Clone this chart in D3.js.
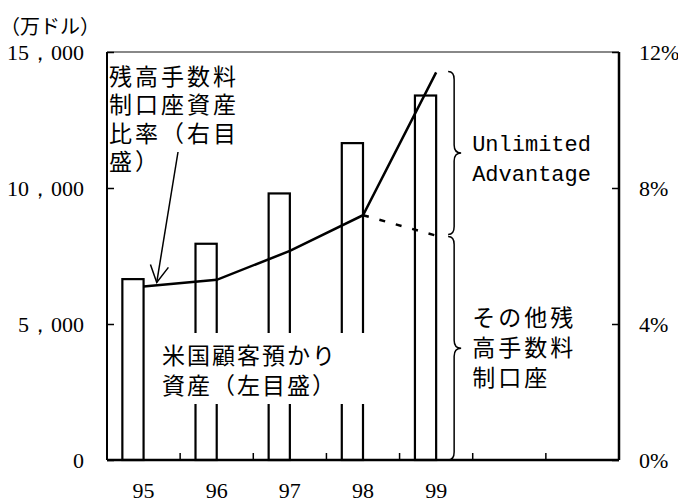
<!DOCTYPE html>
<html>
<head>
<meta charset="utf-8">
<script src="https://cdn.jsdelivr.net/npm/d3@7"></script>
<style>
  html, body { margin: 0; padding: 0; background: #fff; }
  svg { display: block; }
</style>
</head>
<body>
<svg id="chart" width="678" height="503"></svg>
<script>
// Year labels (fiscal years) and the slots on the category axis
const years = ["95", "96", "97", "98", "99"];
const slotCount = 7;
// US customer assets, 10k USD (left axis)
const assets = [6650, 7950, 9800, 11650, 13400];
// Share of fee-based account assets, % (right axis)
const ratio = [5.1, 5.3, 6.15, 7.2, 11.4];
// Same share without Unlimited Advantage, 98 -> 99 (dashed)
const ratioOther = [7.2, 6.6];
// Axis ticks
const leftTicks = [0, 5000, 10000, 15000];
const rightTicks = [0, 4, 8, 12];

const svg = d3.select("#chart");
const L = 107, R = 619, T = 52, B = 460;
const serif = "Liberation Serif, Times New Roman, DejaVu Serif, serif";
const jp = "Noto Sans CJK JP, sans-serif";

const x = d3.scaleBand().domain(d3.range(slotCount)).range([L, R]);
const bw = x.bandwidth();
const cx = i => x(i) + bw / 2;
const yL = d3.scaleLinear().domain([0, 15000]).range([B, T]);
const yR = d3.scaleLinear().domain([0, 12]).range([B, T]);
const barW = bw * 0.29;

// multi-line label as one text element
function block(lines, x0, y0, lh, size, spacing, family) {
  const t = svg.append("text")
    .style("font-family", family).style("font-size", size + "px")
    .attr("letter-spacing", spacing);
  t.selectAll("tspan").data(lines).join("tspan")
    .attr("x", x0).attr("y", (d, i) => y0 + i * lh).text(d => d);
  return t;
}

// frame: top edge in grey
svg.append("line").attr("x1", L).attr("x2", R).attr("y1", T).attr("y2", T)
  .attr("stroke", "#888").attr("stroke-width", 2);

// bars
svg.append("g").selectAll("rect").data(assets).join("rect")
  .attr("x", (d, i) => cx(i) - barW)
  .attr("y", d => yL(d))
  .attr("width", barW)
  .attr("height", d => B - yL(d))
  .attr("fill", "#fff").attr("stroke", "#000").attr("stroke-width", 2.2);

// left axis
const fmt = d3.format(",");
const gL = svg.append("g").attr("transform", `translate(${L},0)`)
  .call(d3.axisLeft(yL).tickValues(leftTicks).tickSize(-7).tickPadding(23)
    .tickFormat(d => fmt(d).replace(",", "，")));
gL.attr("font-family", null).attr("font-size", null);
gL.select(".domain").attr("stroke", "#000").attr("stroke-width", 2).attr("d", `M0,${T}V${B}`);
gL.selectAll(".tick line").attr("stroke", "#000").attr("stroke-width", 1.5);
gL.selectAll(".tick text").style("font-family", serif).style("font-size", "22px")
  .attr("dy", "0.33em").attr("fill", "#000");

// right axis
const gR = svg.append("g").attr("transform", `translate(${R},0)`)
  .call(d3.axisRight(yR).tickValues(rightTicks).tickSize(-7).tickPadding(20)
    .tickFormat(d => d + "%"));
gR.attr("font-family", null).attr("font-size", null);
gR.select(".domain").attr("stroke", "#000").attr("stroke-width", 2.5).attr("d", `M0,${T}V${B}`);
gR.selectAll(".tick line").attr("stroke", "#000").attr("stroke-width", 1.5);
gR.selectAll(".tick text").style("font-family", serif).style("font-size", "22px")
  .attr("dy", "0.33em").attr("fill", "#000");

// bottom axis: ticks on slot boundaries, labels in slot centres
svg.append("line").attr("x1", L).attr("x2", R).attr("y1", B).attr("y2", B)
  .attr("stroke", "#000").attr("stroke-width", 2.5);
svg.append("g").selectAll("line").data(d3.range(1, slotCount)).join("line")
  .attr("x1", d => x(d)).attr("x2", d => x(d)).attr("y1", B).attr("y2", B - 7)
  .attr("stroke", "#000").attr("stroke-width", 1.5);
svg.append("g").selectAll("text").data(years).join("text")
  .attr("x", (d, i) => cx(i)).attr("y", 498)
  .attr("text-anchor", "middle")
  .style("font-family", serif).style("font-size", "22px").text(d => d);

// unit label
svg.append("text").attr("x", 0).attr("y", 34)
  .style("font-family", jp).style("font-size", "20px").text("（万ドル）");

// ratio line
const line = d3.line().x(d => d[0]).y(d => d[1]);
svg.append("path")
  .attr("d", line(ratio.map((v, i) => [cx(i), yR(v)])))
  .attr("fill", "none").attr("stroke", "#000").attr("stroke-width", 2.5);
svg.append("path")
  .attr("d", line(ratioOther.map((v, i) => [cx(3 + i), yR(v)])))
  .attr("fill", "none").attr("stroke", "#000").attr("stroke-width", 2.5)
  .attr("stroke-dasharray", "6,11");

// label for the ratio line with arrow
block(["残高手数料", "制口座資産", "比率（右目", "盛）"], 109, 85, 28.3, 23, 3, jp);

const t = 0.18;
const tip = [cx(0) + t * (cx(1) - cx(0)),
             yR(ratio[0]) + t * (yR(ratio[1]) - yR(ratio[0])) - 3];
const start = [178, 152];
svg.append("line").attr("x1", start[0]).attr("y1", start[1])
  .attr("x2", tip[0]).attr("y2", tip[1]).attr("stroke", "#000").attr("stroke-width", 1.5);
const ang = Math.atan2(start[1] - tip[1], start[0] - tip[0]);
const headLen = 19, spread = 0.5;
const arm = s => [tip[0] + headLen * Math.cos(ang + s), tip[1] + headLen * Math.sin(ang + s)];
const a1 = arm(spread), a2 = arm(-spread);
svg.append("path")
  .attr("d", `M${a1[0]},${a1[1]}L${tip[0]},${tip[1]}L${a2[0]},${a2[1]}`)
  .attr("fill", "none").attr("stroke", "#000").attr("stroke-width", 1.5);

// label for the bars, on a white box
svg.append("rect").attr("x", 155).attr("y", 333).attr("width", 232).attr("height", 71)
  .attr("fill", "#fff");
block(["米国顧客預かり", "資産（左目盛）"], 162, 364, 30, 23, 2, jp);

// braces beside the 99 bar
function brace(xb, y0, y1) {
  const xm = xb + 6, xt = xb + 13, r = 8, ym = (y0 + y1) / 2;
  return `M${xb},${y0}Q${xm},${y0} ${xm},${y0 + r}L${xm},${ym - r}` +
         `Q${xm},${ym} ${xt},${ym}Q${xm},${ym} ${xm},${ym + r}` +
         `L${xm},${y1 - r}Q${xm},${y1} ${xb},${y1}`;
}
const bx = cx(4) + 12;
svg.append("path").attr("d", brace(bx, yR(ratio[4]) - 1, yR(ratioOther[1]) - 1))
  .attr("fill", "none").attr("stroke", "#000").attr("stroke-width", 1.5);
svg.append("path").attr("d", brace(bx, yR(ratioOther[1]) + 1, B))
  .attr("fill", "none").attr("stroke", "#000").attr("stroke-width", 1.5);

// segment names
block(["Unlimited", "Advantage"], bx + 24, 151, 30, 22, 0, "Liberation Mono, DejaVu Sans Mono, monospace");
block(["その他残", "高手数料", "制口座"], bx + 24, 326, 30, 23, 3, jp);
</script>
</body>
</html>
